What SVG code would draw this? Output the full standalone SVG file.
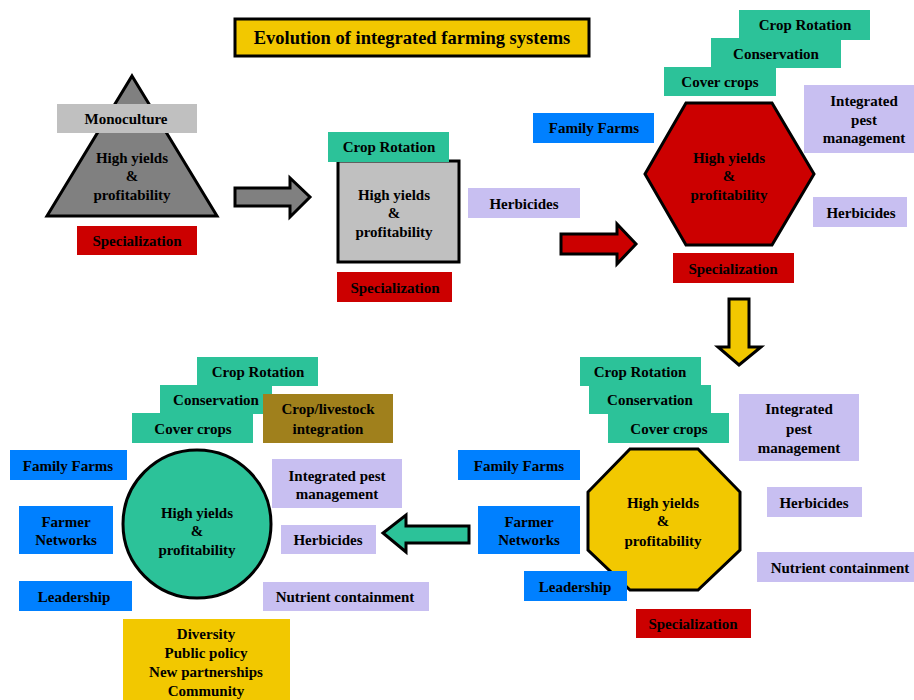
<svg xmlns="http://www.w3.org/2000/svg" width="914" height="700" viewBox="0 0 914 700">
<style>
text{font-family:"Liberation Serif","Times New Roman",serif;font-weight:bold;font-size:15px;fill:#000;text-anchor:middle;dominant-baseline:central}
.title{font-size:18.5px}
.shape{stroke:#000;stroke-width:3;stroke-linejoin:miter}
.teal{fill:#2CC299}
.blue{fill:#0080FF}
.lav{fill:#C8BFF1}
.red{fill:#CC0000}
.yel{fill:#F2C800}
.gray{fill:#808080}
.lgray{fill:#C0C0C0}
.olive{fill:#A0801C}
</style>
<rect width="914" height="700" fill="#fff"/>

<g id="title">
<rect class="shape yel" x="235" y="19" width="354" height="37"/>
<text class="title" x="412" y="38">Evolution of integrated farming systems</text>
</g>

<!-- Stage 1 -->
<g id="stage1">
<polygon class="shape gray" points="132,76 217,216 47,216"/>
<text x="132" y="158">High yields</text>
<text x="132" y="176">&amp;</text>
<text x="132" y="195">profitability</text>
</g>
<g id="s1-monoculture"><rect class="lgray" x="57" y="104" width="140" height="29"/><text x="126" y="119">Monoculture</text></g>
<g id="s1-specialization"><rect class="red" x="77" y="226" width="120" height="29"/><text x="137" y="241">Specialization</text></g>

<!-- Stage 2 -->
<g id="stage2">
<rect class="shape lgray" x="338" y="161" width="121" height="101"/>
<text x="394" y="195">High yields</text>
<text x="394" y="213">&amp;</text>
<text x="394" y="232">profitability</text>
</g>
<g id="s2-croprotation"><rect class="teal" x="328" y="132" width="121" height="30"/><text x="389" y="147">Crop Rotation</text></g>
<g id="s2-specialization"><rect class="red" x="337" y="272" width="115" height="30"/><text x="395" y="288">Specialization</text></g>
<g id="s2-herbicides"><rect class="lav" x="468" y="188" width="112" height="30"/><text x="524" y="204">Herbicides</text></g>

<!-- Stage 3 -->
<g id="stage3">
<polygon class="shape red" points="686,103 772,103 814,174 772,245 686,245 645,174"/>
<text x="729" y="158">High yields</text>
<text x="729" y="176">&amp;</text>
<text x="729" y="195">profitability</text>
</g>
<g id="s3-croprotation"><rect class="teal" x="739" y="10" width="131" height="30"/><text x="805" y="25">Crop Rotation</text></g>
<g id="s3-conservation"><rect class="teal" x="711" y="38" width="130" height="30"/><text x="776" y="54">Conservation</text></g>
<g id="s3-covercrops"><rect class="teal" x="664" y="67" width="112" height="29"/><text x="720" y="82">Cover crops</text></g>
<g id="s3-familyfarms"><rect class="blue" x="533" y="113" width="121" height="30"/><text x="594" y="128">Family Farms</text></g>
<g id="s3-ipm"><rect class="lav" x="804" y="85" width="110" height="68"/><text x="864" y="101">Integrated</text><text x="864" y="120">pest</text><text x="864" y="138">management</text></g>
<g id="s3-herbicides"><rect class="lav" x="813" y="197" width="94" height="30"/><text x="861" y="213">Herbicides</text></g>
<g id="s3-specialization"><rect class="red" x="673" y="253" width="121" height="30"/><text x="733" y="269">Specialization</text></g>

<!-- Stage 4 -->
<g id="stage4">
<polygon class="shape yel" points="630,449 698,449 740,492 740,550 698,590 630,590 588,550 588,492"/>
<text x="663" y="503">High yields</text>
<text x="663" y="521">&amp;</text>
<text x="663" y="541">profitability</text>
</g>
<g id="s4-croprotation"><rect class="teal" x="580" y="357" width="121" height="29"/><text x="640" y="372">Crop Rotation</text></g>
<g id="s4-conservation"><rect class="teal" x="589" y="385" width="122" height="29"/><text x="650" y="400">Conservation</text></g>
<g id="s4-covercrops"><rect class="teal" x="608" y="413" width="121" height="30"/><text x="669" y="429">Cover crops</text></g>
<g id="s4-ipm"><rect class="lav" x="739" y="394" width="120" height="67"/><text x="799" y="409">Integrated</text><text x="799" y="429">pest</text><text x="799" y="448">management</text></g>
<g id="s4-herbicides"><rect class="lav" x="767" y="487" width="95" height="30"/><text x="814" y="503">Herbicides</text></g>
<g id="s4-nutrient"><rect class="lav" x="757" y="552" width="157" height="30"/><text x="840" y="568">Nutrient containment</text></g>
<g id="s4-familyfarms"><rect class="blue" x="458" y="450" width="122" height="30"/><text x="519" y="466">Family Farms</text></g>
<g id="s4-farmernetworks"><rect class="blue" x="478" y="506" width="102" height="48"/><text x="529" y="522">Farmer</text><text x="529" y="540">Networks</text></g>
<g id="s4-leadership"><rect class="blue" x="524" y="571" width="103" height="30"/><text x="575" y="587">Leadership</text></g>
<g id="s4-specialization"><rect class="red" x="636" y="609" width="115" height="29"/><text x="693" y="624">Specialization</text></g>

<!-- Stage 5 -->
<g id="stage5">
<circle class="shape teal" cx="197" cy="524" r="74"/>
<text x="197" y="513">High yields</text>
<text x="197" y="531">&amp;</text>
<text x="197" y="550">profitability</text>
</g>
<g id="s5-croprotation"><rect class="teal" x="197" y="357" width="121" height="29"/><text x="258" y="372">Crop Rotation</text></g>
<g id="s5-conservation"><rect class="teal" x="160" y="385" width="112" height="29"/><text x="216" y="400">Conservation</text></g>
<g id="s5-covercrops"><rect class="teal" x="132" y="413" width="121" height="30"/><text x="193" y="429">Cover crops</text></g>
<g id="s5-croplivestock"><rect class="olive" x="263" y="394" width="130" height="49"/><text x="328" y="409">Crop/livestock</text><text x="328" y="429">integration</text></g>
<g id="s5-familyfarms"><rect class="blue" x="10" y="450" width="117" height="30"/><text x="68" y="466">Family Farms</text></g>
<g id="s5-farmernetworks"><rect class="blue" x="19" y="506" width="94" height="48"/><text x="66" y="522">Farmer</text><text x="66" y="540">Networks</text></g>
<g id="s5-leadership"><rect class="blue" x="19" y="581" width="113" height="30"/><text x="74" y="597">Leadership</text></g>
<g id="s5-ipm"><rect class="lav" x="272" y="459" width="130" height="49"/><text x="337" y="476">Integrated pest</text><text x="337" y="494">management</text></g>
<g id="s5-herbicides"><rect class="lav" x="281" y="525" width="95" height="29"/><text x="328" y="540">Herbicides</text></g>
<g id="s5-nutrient"><rect class="lav" x="263" y="582" width="166" height="29"/><text x="345" y="597">Nutrient containment</text></g>
<g id="s5-community"><rect class="yel" x="123" y="619" width="167" height="81"/><text x="206" y="634">Diversity</text><text x="206" y="653">Public policy</text><text x="206" y="672">New partnerships</text><text x="206" y="691">Community</text></g>

<!-- Connectors (block arrows) -->
<g id="connectors">
<polygon class="shape gray" points="235,188 290,188 290,178 310,197 290,217 290,206 235,206"/>
<polygon class="shape red" points="561,234 617,234 617,224 636,244 617,264 617,254 561,254"/>
<polygon class="shape yel" points="729,299 749,299 749,347 761,347 739,365 718,347 729,347"/>
<polygon class="shape teal" points="469,526 406,526 406,515 383,533 406,552 406,543 469,543"/>
</g>
</svg>
